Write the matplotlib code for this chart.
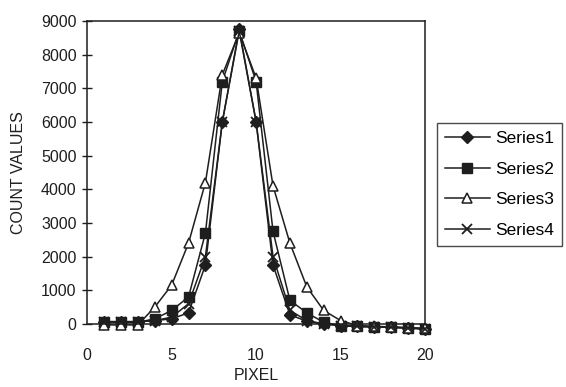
import numpy as np
import matplotlib.pyplot as plt

# Data
pixel = list(range(1, 21))
series1 = [70, 70, 70, 100, 150, 330, 1750, 6000, 8750, 6000, 1750, 270, 80, 0, -50, -70, -90, -100, -120, -150]
series2 = [50, 50, 50, 150, 400, 800, 2700, 7200, 8700, 7200, 2750, 700, 330, 50, -50, -70, -90, -100, -120, -150]
series3 = [-30, -30, -30, 500, 1150, 2400, 4200, 7400, 8650, 7300, 4100, 2400, 1100, 400, 100, -50, -70, -90, -110, -130]
series4 = [60, 60, 60, 100, 200, 600, 2000, 6000, 8700, 6000, 2000, 400, 100, 0, -50, -70, -90, -100, -120, -150]

plt.rcParams['font.family'] = ['Liberation Sans', 'DejaVu Sans']
ink = '#1e1e1e'

fig = plt.figure(figsize=(5.66, 3.87), dpi=100)
ax = fig.add_axes([0.154, 0.163, 0.597, 0.783])

ax.plot(pixel, series1, color=ink, lw=1.1, marker='D', ms=6.5, mfc=ink, mec=ink, label='Series1', clip_on=False)
ax.plot(pixel, series2, color=ink, lw=1.1, marker='s', ms=7.5, mfc=ink, mec=ink, label='Series2', clip_on=False)
ax.plot(pixel, series3, color=ink, lw=1.1, marker='^', ms=7.5, mfc='white', mec=ink, mew=1.1, label='Series3', clip_on=False)
ax.plot(pixel, series4, color=ink, lw=1.1, marker='x', ms=7, mec=ink, mew=1.3, label='Series4', clip_on=False)

ax.set_xlim(0, 20)
ax.set_ylim(0, 9000)
ax.set_xticks([0, 5, 10, 15, 20])
ax.set_yticks(np.arange(0, 9001, 1000))
ax.tick_params(axis='y', direction='inout', length=7, width=1, colors=ink, labelsize=11.5, pad=4)
ax.tick_params(axis='x', length=0, colors=ink, labelsize=11.5, pad=17)

for s in ax.spines.values():
    s.set_color(ink)
    s.set_linewidth(1.1)

ax.set_xlabel('PIXEL', fontsize=11.5, color=ink, labelpad=4)
ax.set_ylabel('COUNT VALUES', fontsize=11.5, color=ink, labelpad=11)

leg = ax.legend(loc='center left', bbox_to_anchor=(1.035, 0.46), frameon=True, fancybox=False,
                edgecolor=ink, fontsize=12.5, handlelength=2.6, handletextpad=0.3,
                labelspacing=0.9, borderpad=0.45, borderaxespad=0)
leg.get_frame().set_linewidth(1.0)

fig.savefig('out.png', dpi=100)
